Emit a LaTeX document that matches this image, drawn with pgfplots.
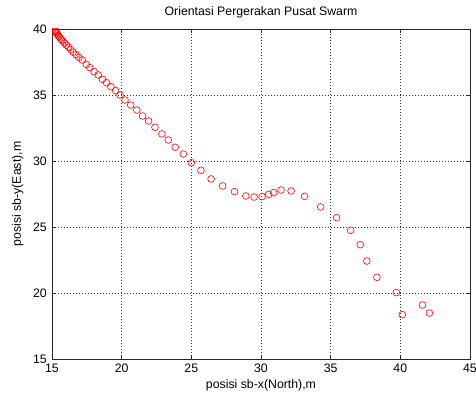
\documentclass[border=0pt]{standalone}
\usepackage{pgfplots}
\pgfplotsset{compat=1.18}
\usepackage{fontspec}
\setmainfont{Liberation Sans}

% Trajectory of the swarm centre (x = North, y = East), in metres
\pgfplotstableread{
x      y
15.22  39.88
15.25  39.83
15.28  39.77
15.32  39.70
15.37  39.62
15.43  39.53
15.50  39.43
15.58  39.32
15.67  39.20
15.78  39.07
15.90  38.93
16.03  38.78
16.18  38.62
16.34  38.45
16.52  38.25
16.72  38.05
16.93  37.85
17.17  37.65
17.46  37.32
17.71  37.07
18.02  36.77
18.31  36.52
18.62  36.19
18.91  35.93
19.23  35.63
19.57  35.33
19.88  35.00
20.24  34.62
20.65  34.24
21.09  33.86
21.50  33.41
21.93  33.03
22.39  32.55
22.89  32.05
23.34  31.59
23.84  31.04
24.43  30.53
25.00  29.87
25.69  29.29
26.42  28.64
27.25  28.11
28.10  27.68
28.91  27.35
29.50  27.27
30.07  27.30
30.55  27.47
30.91  27.60
31.44  27.80
32.16  27.73
33.13  27.32
34.28  26.52
35.43  25.71
36.44  24.75
37.12  23.66
37.60  22.42
38.32  21.19
39.71  20.03
40.14  18.36
41.59  19.09
42.09  18.48
}\swarmtable

\begin{document}
\begin{tikzpicture}
\useasboundingbox (0,0) rectangle (476bp,396bp);
\begin{axis}[
  at={(52bp,37bp)}, anchor=south west,
  scale only axis, width=418bp, height=330bp,
  xmin=15, xmax=45, ymin=15, ymax=40,
  xtick={15,20,...,45}, ytick={15,20,...,40},
  font=\fontsize{12.3bp}{15bp}\selectfont,
  /pgf/number format/assume math mode=true,
  tick align=inside, major tick length=4bp,
  tick style={black!85, line width=0.5bp},
  axis line style={black!85, line width=0.6bp},
  grid=major,
  grid style={black!80, line width=0.5bp, dash pattern=on 0.6bp off 2.4bp},
  xticklabel style={anchor=north, inner sep=0pt, yshift=-5bp},
  yticklabel style={anchor=east, inner sep=0pt, xshift=-5bp},
  title={Orientasi Pergerakan Pusat Swarm},
  title style={at={(axis description cs:0.5,1)}, anchor=base, yshift=8bp, inner sep=0pt},
  xlabel={posisi sb-x(North),m},
  xlabel style={at={(axis description cs:0.5,0)}, anchor=base, yshift=-29bp, inner sep=0pt},
  ylabel={posisi sb-y(East),m},
  ylabel style={at={(axis description cs:-0.0742,0.5)}, anchor=base, inner sep=0pt},
  clip marker paths=true,
]
\addplot[only marks, mark=o, mark size=3.4bp, color=red,
  mark options={line width=0.6bp}] table[x=x, y=y] {\swarmtable};
\end{axis}
\end{tikzpicture}
\end{document}
